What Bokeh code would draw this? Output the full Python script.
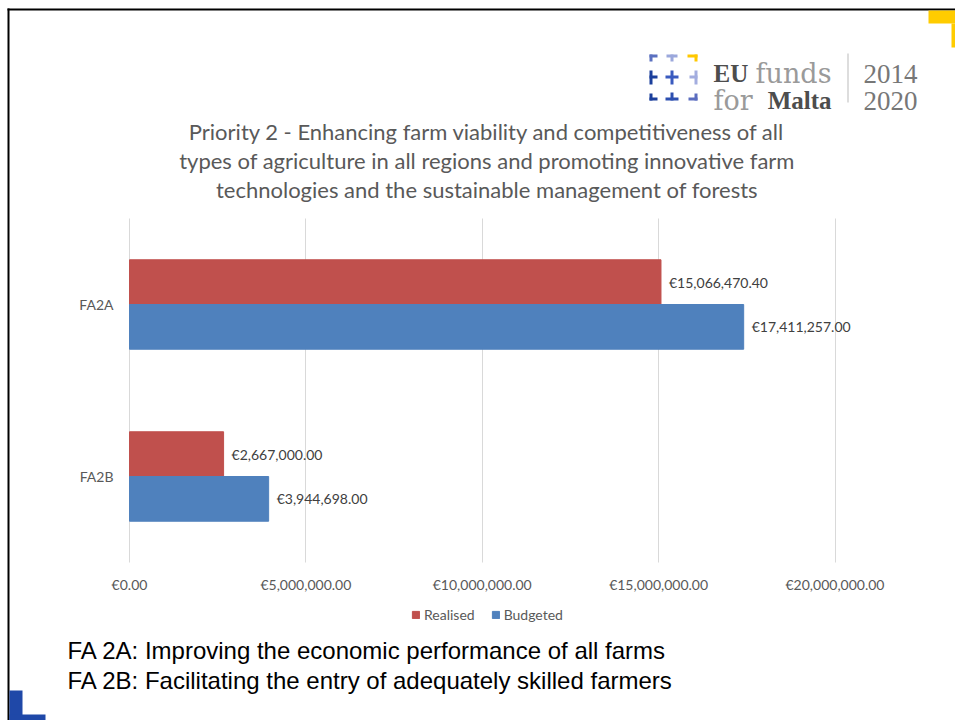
from bokeh.plotting import figure
from bokeh.models import (ColumnDataSource, Range1d, FixedTicker, Label,
                          LabelSet, BoxAnnotation, Legend, LegendItem)
from bokeh.core.properties import value
from bokeh.embed import file_html
from bokeh.resources import INLINE

# ---- data ----
categories = ["FA2A", "FA2B"]
series_names = ["Realised", "Budgeted"]
realised = [15066470.40, 2667000.00]
budgeted = [17411257.00, 3944698.00]
x_ticks = [0, 5000000, 10000000, 15000000, 20000000]
x_tick_labels = ["€0.00", "€5,000,000.00", "€10,000,000.00", "€15,000,000.00", "€20,000,000.00"]
title_lines = [
    "Priority 2 - Enhancing farm viability and competitiveness of all",
    "types of agriculture in all regions and promoting innovative farm",
    "technologies and the sustainable management of forests",
]
footnotes = [
    "FA 2A: Improving the economic performance of all farms",
    "FA 2B: Facilitating the entry of adequately skilled farmers",
]

RED = "#C0504D"
BLUE = "#4F81BD"
GREY = "#595959"
GRID = "#D9D9D9"

# ---- layout constants (pixels on the canvas) ----
W, H = 955, 720
X0_PX, XMAX_PX = 129.0, 834.5          # where 0 and the axis maximum fall
Y_TOP_PX, Y_BOT_PX = 218.0, 562.0      # top / bottom of the category band
XMAX = x_ticks[-1]
ncat = len(categories)
kx = (XMAX_PX - X0_PX) / XMAX
ky = (Y_BOT_PX - Y_TOP_PX) / ncat
x_range = Range1d(-X0_PX / kx, (W - X0_PX) / kx)
y_range = Range1d(-(H - Y_BOT_PX) / ky, ncat + Y_TOP_PX / ky)

def euro(v):
    return "€{:,.2f}".format(v)

pos = [ncat - i - 0.5 for i in range(ncat)]   # first category on top
BAR = 0.26
source = ColumnDataSource(dict(
    cat=categories,
    y_real=[y + BAR / 2 for y in pos],
    y_budg=[y - BAR / 2 for y in pos],
    realised=realised,
    budgeted=budgeted,
    realised_lbl=[euro(v) for v in realised],
    budgeted_lbl=[euro(v) for v in budgeted],
))

p = figure(width=W, height=H, output_backend="svg", toolbar_location=None,
           x_range=x_range, y_range=y_range,
           min_border_left=0, min_border_right=0, min_border_top=0, min_border_bottom=0)
p.outline_line_color = None
p.background_fill_color = "white"
p.border_fill_color = "white"
p.xgrid.visible = False
p.ygrid.visible = False

r1 = p.hbar(y="y_real", left=0, right="realised", height=BAR,
            source=source, fill_color=RED, line_color=RED)
r2 = p.hbar(y="y_budg", left=0, right="budgeted", height=BAR,
            source=source, fill_color=BLUE, line_color=BLUE)

for col, ycol in (("realised", "y_real"), ("budgeted", "y_budg")):
    p.add_layout(LabelSet(x=col, y=ycol, text=col + "_lbl",
                          source=source, x_offset=8, text_baseline="middle",
                          text_font=value("Lato"), text_font_size="14px", text_color="#404040"))

# x axis: sits at the bottom of the category band; its inward ticks form the gridlines
xa = p.xaxis[0]
xa.fixed_location = 0
xa.bounds = (0, XMAX)
xa.ticker = FixedTicker(ticks=x_ticks)
xa.major_label_overrides = {t: l for t, l in zip(x_ticks, x_tick_labels)}
xa.axis_line_color = None
xa.major_tick_in = int(round(Y_BOT_PX - Y_TOP_PX))
xa.major_tick_out = 0
xa.major_tick_line_color = GRID
xa.minor_tick_line_color = None
xa.major_label_standoff = 13
xa.level = "underlay"

ya = p.yaxis[0]
ya.fixed_location = 0
ya.bounds = (0, ncat)
ya.ticker = FixedTicker(ticks=pos)
ya.major_label_overrides = {y: c for y, c in zip(pos, categories)}
ya.axis_line_color = None
ya.major_tick_line_color = None
ya.major_tick_in = 0
ya.major_tick_out = 0
ya.minor_tick_line_color = None
ya.major_label_standoff = 16

for ax in (xa, ya):
    ax.major_label_text_font = "Lato"
    ax.major_label_text_font_size = "14px"
    ax.major_label_text_color = GREY

legend = Legend(items=[LegendItem(label=series_names[0], renderers=[r1]),
                       LegendItem(label=series_names[1], renderers=[r2])],
                location=(411, 97), orientation="horizontal",
                glyph_width=9, glyph_height=9, label_standoff=4, spacing=16,
                label_height=9, padding=0, margin=0, border_line_color=None,
                background_fill_alpha=0,
                label_text_font="Lato", label_text_font_size="14px", label_text_color=GREY)
p.add_layout(legend)

def lab(x, y, text, size, color, font, style="normal", align="left", baseline="middle"):
    p.add_layout(Label(x=x, y=y, x_units="canvas", y_units="canvas", text=text,
                       text_font=font, text_font_size=size, text_color=color,
                       text_font_style=style, text_align=align, text_baseline=baseline))

def box(l, r, t, b, color):
    p.add_layout(BoxAnnotation(left=l, right=r, top=t, bottom=b,
                               left_units="canvas", right_units="canvas",
                               top_units="canvas", bottom_units="canvas",
                               fill_color=color, fill_alpha=1, line_color=None))

# title
for i, t in enumerate(title_lines):
    lab(486.5, 131 + 29 * i, t, "22px", GREY, "Lato", align="center")

# footnotes
for i, t in enumerate(footnotes):
    lab(67, 650 + 30 * i, t, "24px", "black", "Liberation Sans")

# slide frame and decorations
box(7, W, 8, 10, "black")
box(7, 9, 8, H, "black")
box(928, W, 10, 23, "#FFCC00")
box(951, W, 23, 47, "#FFCC00")
box(9, 22, 690, H, "#1F48A8")
box(9, 45, 714, H, "#1F48A8")

# logo icon
icon = [
    ((649, 657, 54, 57), (649, 652, 54, 61), "#5B70C0"),
    ((666, 677, 54, 57), (670, 673, 54, 61), "#9BA8DC"),
    ((687, 697, 54, 57), (694, 697, 54, 61), "#FFC800"),
    ((649, 652, 70, 84), (649, 657, 75, 78), "#1B3F9C"),
    ((670, 673, 70, 84), (665, 678, 75, 78), "#3A5BBF"),
    ((694, 697, 70, 84), (689, 697, 75, 78), "#A3ADDF"),
    ((649, 652, 93, 100), (649, 657, 97, 100), "#1B3F9C"),
    ((670, 673, 92, 100), (665, 678, 97, 100), "#2C4FB0"),
    ((694, 697, 93, 100), (688, 697, 97, 100), "#5B6DBF"),
]
for a, b, c in icon:
    box(a[0], a[1], a[2], a[3], c)
    box(b[0], b[1], b[2], b[3], c)

lab(713, 73, "EU", "25px", "#4D4D4D", "Liberation Serif", style="bold", baseline="alphabetic")
lab(831, 73, "funds", "27px", "#9A9A9A", "DejaVu Serif", align="right", baseline="alphabetic")
lab(713, 100, "for", "27px", "#9A9A9A", "DejaVu Serif", baseline="alphabetic")
lab(831, 100, "Malta", "25px", "#4D4D4D", "Liberation Serif", style="bold", align="right",
    baseline="alphabetic")
box(847, 848, 53, 102, "#BBBBBB")
lab(863, 73, "2014", "27px", "#777777", "Liberation Serif", baseline="alphabetic")
lab(863, 100, "2020", "27px", "#777777", "Liberation Serif", baseline="alphabetic")

open("out.html", "w").write(file_html(p, INLINE))
